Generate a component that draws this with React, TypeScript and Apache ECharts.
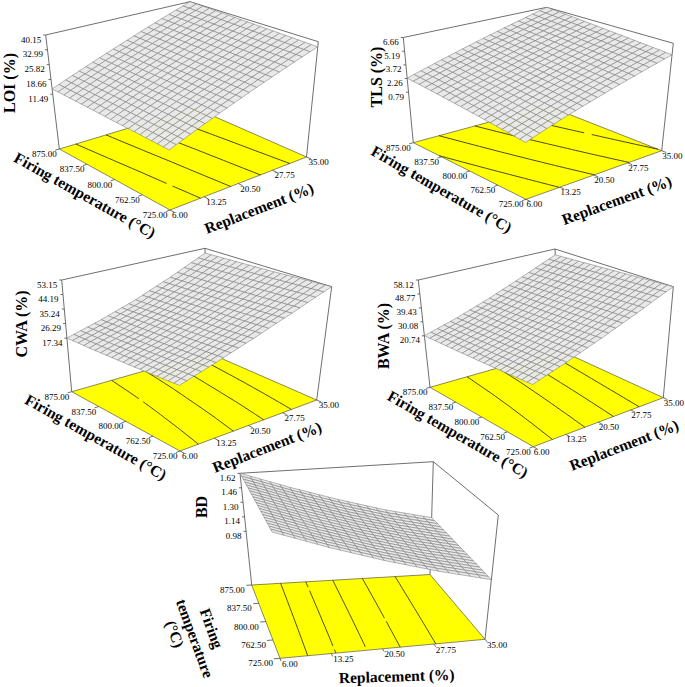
import React, { useEffect, useRef } from "react";
import * as echarts from "echarts";

// ---------------- data ----------------
const REPLACEMENT_TICKS = [6, 13.25, 20.5, 27.75, 35];
const REPLACEMENT_LABELS = ["6.00", "13.25", "20.50", "27.75", "35.00"];
const TEMPERATURE_TICKS = [725, 762.5, 800, 837.5, 875];
const TEMPERATURE_LABELS = ["725.00", "762.50", "800.00", "837.50", "875.00"];

// rows: firing temperature 725 -> 875 ; columns: replacement 6 -> 35
const LOI_VALUES = [
  [11.49, 17.9, 24.4, 31.0, 37.7],
  [12.1, 18.5, 25.0, 31.6, 38.3],
  [12.7, 19.1, 25.6, 32.2, 38.9],
  [13.4, 19.8, 26.3, 32.9, 39.5],
  [14.1, 20.5, 27.0, 33.6, 40.15],
];
const LOI_AXIS = ["11.49", "18.66", "25.82", "32.99", "40.15"];
const LOI_CONTOURS = [17.22, 22.95, 28.69, 34.42];

const TLS_VALUES = [
  [0.79, 1.98, 3.12, 4.27, 5.45],
  [1.17, 2.33, 3.47, 4.6, 5.75],
  [1.55, 2.69, 3.81, 4.93, 6.05],
  [1.93, 3.04, 4.16, 5.26, 6.36],
  [2.3, 3.4, 4.5, 5.58, 6.66],
];
const TLS_AXIS = ["0.79", "2.26", "3.72", "5.19", "6.66"];
const TLS_CONTOURS = [1.96, 3.14, 4.31, 5.49];

const CWA_VALUES = [
  [21.0, 27.5, 35.0, 43.5, 53.15],
  [19.9, 26.3, 33.7, 42.4, 52.3],
  [18.9, 25.2, 32.6, 41.4, 51.4],
  [18.0, 24.2, 31.5, 40.4, 50.7],
  [17.34, 23.3, 30.4, 39.5, 50.0],
];
const CWA_AXIS = ["17.34", "26.29", "35.24", "44.19", "53.15"];
const CWA_CONTOURS = [24.5, 31.7, 38.8, 46.0];

const BWA_VALUES = [
  [24.2, 31.0, 39.0, 48.0, 58.12],
  [23.2, 29.9, 37.9, 47.0, 57.2],
  [22.3, 28.9, 36.8, 46.0, 56.2],
  [21.5, 28.0, 35.8, 45.0, 55.1],
  [20.74, 27.1, 34.9, 44.0, 54.0],
];
const BWA_AXIS = ["20.74", "30.08", "39.43", "48.77", "58.12"];
const BWA_CONTOURS = [28.2, 35.7, 43.2, 50.6];

const BD_VALUES = [
  [1.6, 1.415, 1.25, 1.105, 0.98],
  [1.605, 1.42, 1.255, 1.11, 0.988],
  [1.61, 1.425, 1.26, 1.115, 0.995],
  [1.615, 1.43, 1.265, 1.12, 1.002],
  [1.62, 1.435, 1.27, 1.125, 1.01],
];
const BD_AXIS = ["0.98", "1.14", "1.30", "1.46", "1.62"];
const BD_CONTOURS = [1.1, 1.2, 1.3, 1.4, 1.5];

const Z_TITLES = ["LOI (%)", "TLS (%)", "CWA (%)", "BWA (%)", "BD"];
const REPLACEMENT_TITLE = "Replacement (%)";
const TEMPERATURE_TITLE = "Firing temperature (°C)";
const TEMPERATURE_TITLE_LINES = ["Firing", "temperature", "(°C)"];

// ---------------- layout (screen geometry of each 3D box) ----------------
type P = [number, number];
interface Geom {
  A: P; B: P; C: P; D: P; A2: P; B2: P; C2: P; D2: P;
}
const STD_OFF = { tDx: -2.5, tDy: 5, rDx: 2, rDy: 5, zDx: -4.5, zDy: 4.5 };
const RIGHT_OFF = { tDx: -2.5, tDy: 5, rDx: 0.5, rDy: 5, zDx: -4.5, zDy: 4.5 };
const BD_OFF = { tDx: -7, tDy: 5, rDx: 2, rDy: 5.5, zDx: -4.5, zDy: 4.5 };

const LAYOUTS: any[] = [
  {
    geom: { A: [170, 210], B: [306.5, 157], C: [59.3, 149], D: [195, 108], A2: [168, 85], B2: [318.3, 41.7], C2: [45.7, 35], D2: [190, 1.7] },
    zTitle: [9, 83], tTitle: [85, 195, -0.51], rTitle: [259, 208, 0.37], off: STD_OFF,
  },
  {
    geom: { A: [526, 199.3], B: [661.7, 150.7], C: [413.3, 142.7], D: [548, 106], A2: [525, 81], B2: [673.3, 43.3], C2: [403.3, 37.5], D2: [546.7, 7.3] },
    zTitle: [376, 77], tTitle: [441.7, 189, -0.52], rTitle: [616.7, 200, 0.35], off: RIGHT_OFF,
  },
  {
    geom: { A: [180, 451], B: [316.7, 400], C: [71.7, 391.7], D: [208.4, 352.7], A2: [179, 328], B2: [331.7, 286.7], C2: [61.7, 280], D2: [205, 248.3] },
    zTitle: [21, 324], tTitle: [96, 437, -0.51], rTitle: [267, 447, 0.37], off: STD_OFF,
  },
  {
    geom: { A: [533.3, 446.7], B: [663.3, 397.7], C: [430, 387.3], D: [560, 350.3], A2: [532, 329], B2: [673.3, 286.7], C2: [418.3, 280], D2: [555, 249] },
    zTitle: [383, 336], tTitle: [458, 434, -0.52], rTitle: [624, 445, 0.37], off: RIGHT_OFF,
  },
  {
    geom: { A: [280, 658.3], B: [485, 639.3], C: [251.7, 585], D: [430, 574.5], A2: [272, 530], B2: [498.3, 515], C2: [240, 473.3], D2: [433.3, 461.7] },
    zTitle: [201.7, 507], tLines: [[211.7, 628.3], [195, 638.3], [175, 634]], tRot: -1.22, rTitle: [396.7, 676, 0.03], off: BD_OFF,
  },
];

const PLOTS = [
  { values: LOI_VALUES, axis: LOI_AXIS, contours: LOI_CONTOURS, title: Z_TITLES[0], ...LAYOUTS[0] },
  { values: TLS_VALUES, axis: TLS_AXIS, contours: TLS_CONTOURS, title: Z_TITLES[1], ...LAYOUTS[1] },
  { values: CWA_VALUES, axis: CWA_AXIS, contours: CWA_CONTOURS, title: Z_TITLES[2], ...LAYOUTS[2] },
  { values: BWA_VALUES, axis: BWA_AXIS, contours: BWA_CONTOURS, title: Z_TITLES[3], ...LAYOUTS[3] },
  { values: BD_VALUES, axis: BD_AXIS, contours: BD_CONTOURS, title: Z_TITLES[4], ...LAYOUTS[4] },
];

const W_MIN = 0.48; // height fraction of the box where the z-axis minimum sits
const MESH = 20; // mesh lines drawn across the surface
const CONTOUR_RES = 40;
const TICK_FONT = 9;
const SERIF = "'Times New Roman', 'Liberation Serif', serif";

// ---------------- scales / projection ----------------
const R0 = REPLACEMENT_TICKS[0];
const R1 = REPLACEMENT_TICKS[REPLACEMENT_TICKS.length - 1];
const T0 = TEMPERATURE_TICKS[0];
const T1 = TEMPERATURE_TICKS[TEMPERATURE_TICKS.length - 1];
const uOf = (r: number) => (r - R0) / (R1 - R0);
const vOf = (t: number) => (t - T0) / (T1 - T0);
function wOf(plot: any, z: number) {
  const lo = parseFloat(plot.axis[0]);
  const hi = parseFloat(plot.axis[plot.axis.length - 1]);
  return W_MIN + (1 - W_MIN) * (z - lo) / (hi - lo);
}
function bil(a: P, b: P, c: P, d: P, u: number, v: number): P {
  return [
    a[0] * (1 - u) * (1 - v) + b[0] * u * (1 - v) + c[0] * (1 - u) * v + d[0] * u * v,
    a[1] * (1 - u) * (1 - v) + b[1] * u * (1 - v) + c[1] * (1 - u) * v + d[1] * u * v,
  ];
}
function project(g: Geom, u: number, v: number, w: number): P {
  const f = bil(g.A, g.B, g.C, g.D, u, v);
  const t = bil(g.A2, g.B2, g.C2, g.D2, u, v);
  return [f[0] + (t[0] - f[0]) * w, f[1] + (t[1] - f[1]) * w];
}
// surface height on the patch spanned by the read grid values
function sample(vals: number[][], u: number, v: number) {
  const n = vals.length - 1;
  const m = vals[0].length - 1;
  const fy = Math.min(v * n, n - 1e-9);
  const fx = Math.min(u * m, m - 1e-9);
  const r = Math.floor(fy);
  const c = Math.floor(fx);
  const ty = fy - r;
  const tx = fx - c;
  return (
    vals[r][c] * (1 - tx) * (1 - ty) +
    vals[r][c + 1] * tx * (1 - ty) +
    vals[r + 1][c] * (1 - tx) * ty +
    vals[r + 1][c + 1] * tx * ty
  );
}
const fmt = (p: P) => `${p[0].toFixed(2)} ${p[1].toFixed(2)}`;

function renderFloor(_params: any, api: any) {
  const plot: any = PLOTS[api.value(0)];
  const g: Geom = plot.geom;
  const pr = (u: number, v: number, w: number) => project(g, u, v, w);
  const children: any[] = [];
  children.push({
    type: "polygon",
    shape: { points: [pr(0, 0, 0), pr(1, 0, 0), pr(1, 1, 0), pr(0, 1, 0)] },
    style: { fill: "#ffff00", stroke: "#3a3a3a", lineWidth: 0.6 },
  });
  // contour lines on the floor (marching squares)
  const N = CONTOUR_RES;
  const grid: number[][] = [];
  for (let j = 0; j <= N; j++) {
    const row: number[] = [];
    for (let i = 0; i <= N; i++) row.push(sample(plot.values, i / N, j / N));
    grid.push(row);
  }
  let d = "";
  for (const L of plot.contours) {
    for (let j = 0; j < N; j++) {
      for (let i = 0; i < N; i++) {
        const corners: [number, number, number][] = [
          [i, j, grid[j][i]],
          [i + 1, j, grid[j][i + 1]],
          [i + 1, j + 1, grid[j + 1][i + 1]],
          [i, j + 1, grid[j + 1][i]],
        ];
        const pts: P[] = [];
        for (let e = 0; e < 4; e++) {
          const a = corners[e];
          const b = corners[(e + 1) % 4];
          if ((a[2] - L) * (b[2] - L) < 0) {
            const t = (L - a[2]) / (b[2] - a[2]);
            pts.push(pr((a[0] + (b[0] - a[0]) * t) / N, (a[1] + (b[1] - a[1]) * t) / N, 0));
          }
        }
        if (pts.length >= 2) d += `M${fmt(pts[0])}L${fmt(pts[1])}`;
        if (pts.length === 4) d += `M${fmt(pts[2])}L${fmt(pts[3])}`;
      }
    }
  }
  children.push({ type: "path", shape: { pathData: d }, style: { fill: "none", stroke: "#1a1a1a", lineWidth: 0.8 } });
  // back edges of the box
  const edges: [P, P][] = [
    [pr(0, 1, 0), pr(0, 1, 1)],
    [pr(1, 1, 0), pr(1, 1, 1)],
    [pr(1, 0, 0), pr(1, 0, 1)],
    [pr(0, 1, 1), pr(1, 1, 1)],
    [pr(1, 1, 1), pr(1, 0, 1)],
  ];
  let e = "";
  for (const [a, b] of edges) e += `M${fmt(a)}L${fmt(b)}`;
  // tick marks
  for (const r of REPLACEMENT_TICKS) {
    const p = pr(uOf(r), 0, 0);
    const q = pr(uOf(r), -0.04, 0);
    e += `M${fmt(p)}L${fmt(q)}`;
  }
  for (const t of TEMPERATURE_TICKS) {
    const p = pr(0, vOf(t), 0);
    const q = pr(-0.03, vOf(t), 0);
    e += `M${fmt(p)}L${fmt(q)}`;
  }
  for (const s of plot.axis) {
    const p = pr(0, 1, wOf(plot, parseFloat(s)));
    e += `M${fmt(p)}L${fmt([p[0] - 2.5, p[1]])}`;
  }
  children.push({ type: "path", shape: { pathData: e }, style: { fill: "none", stroke: "#4a4a4a", lineWidth: 0.8 } });
  return { type: "group", children };
}

function renderCell(_params: any, api: any) {
  const plot: any = PLOTS[api.value(0)];
  const i = api.value(1);
  const j = api.value(2);
  const pts = [
    [i, j],
    [i + 1, j],
    [i + 1, j + 1],
    [i, j + 1],
  ].map(([a, b]) => {
    const u = a / MESH;
    const v = b / MESH;
    return project(plot.geom, u, v, wOf(plot, sample(plot.values, u, v)));
  });
  return {
    type: "polygon",
    shape: { points: pts },
    style: { fill: "#e9e9e9", stroke: "#6f6f6f", lineWidth: 0.5 },
  };
}

function buildCells() {
  const cells: number[][] = [];
  PLOTS.forEach((plot: any, k) => {
    const list: { d: number; c: number[] }[] = [];
    for (let j = 0; j < MESH; j++) {
      for (let i = 0; i < MESH; i++) {
        const c = project(plot.geom, (i + 0.5) / MESH, (j + 0.5) / MESH, 0);
        list.push({ d: c[1], c: [k, i, j] });
      }
    }
    list.sort((a, b) => a.d - b.d);
    list.forEach((x) => cells.push(x.c));
  });
  return cells;
}

function txt(text: string, x: number, y: number, size: number, bold: boolean, align: string, rotation = 0) {
  return {
    type: "text",
    x,
    y,
    rotation,
    z: 100,
    silent: true,
    style: {
      text,
      fill: "#000",
      fontSize: size,
      fontWeight: bold ? "bold" : "normal",
      fontFamily: SERIF,
      align,
      verticalAlign: "middle",
      textAlign: align,
      textVerticalAlign: "middle",
    },
  };
}

function buildTexts() {
  const out: any[] = [];
  PLOTS.forEach((plot: any) => {
    const g: Geom = plot.geom;
    const o = plot.off;
    REPLACEMENT_TICKS.forEach((r, k) => {
      const p = project(g, uOf(r), 0, 0);
      out.push(txt(REPLACEMENT_LABELS[k], p[0] + o.rDx, p[1] + o.rDy, TICK_FONT, false, "left"));
    });
    TEMPERATURE_TICKS.forEach((t, k) => {
      const p = project(g, 0, vOf(t), 0);
      out.push(txt(TEMPERATURE_LABELS[k], p[0] + o.tDx, p[1] + o.tDy, TICK_FONT, false, "right"));
    });
    plot.axis.forEach((s: string) => {
      const p = project(g, 0, 1, wOf(plot, parseFloat(s)));
      out.push(txt(s, p[0] + o.zDx, p[1] + o.zDy, TICK_FONT, false, "right"));
    });
    out.push(txt(plot.title, plot.zTitle[0], plot.zTitle[1], 16, true, "center", Math.PI / 2));
    out.push(txt(REPLACEMENT_TITLE, plot.rTitle[0], plot.rTitle[1], 15.5, true, "center", plot.rTitle[2]));
    if (plot.tTitle) {
      out.push(txt(TEMPERATURE_TITLE, plot.tTitle[0], plot.tTitle[1], 15.5, true, "center", plot.tTitle[2]));
    } else {
      TEMPERATURE_TITLE_LINES.forEach((line, k) => {
        out.push(txt(line, plot.tLines[k][0], plot.tLines[k][1], 15.5, true, "center", plot.tRot));
      });
    }
  });
  return out;
}

export default function App() {
  const ref = useRef<HTMLDivElement>(null);
  useEffect(() => {
    if (!ref.current) return;
    const chart = echarts.init(ref.current, undefined, { renderer: "svg" });
    chart.setOption({
      animation: false,
      backgroundColor: "#ffffff",
      graphic: { elements: buildTexts() },
      series: [
        {
          type: "custom",
          coordinateSystem: "none",
          z: 1,
          silent: true,
          data: PLOTS.map((_, k) => [k]),
          renderItem: renderFloor,
        },
        {
          type: "custom",
          coordinateSystem: "none",
          z: 2,
          silent: true,
          data: buildCells(),
          renderItem: renderCell,
        },
      ],
    });
    return () => chart.dispose();
  }, []);
  return (
    <div
      ref={ref}
      style={{ position: "fixed", left: 0, top: 0, width: 685, height: 687, background: "#fff" }}
    />
  );
}
